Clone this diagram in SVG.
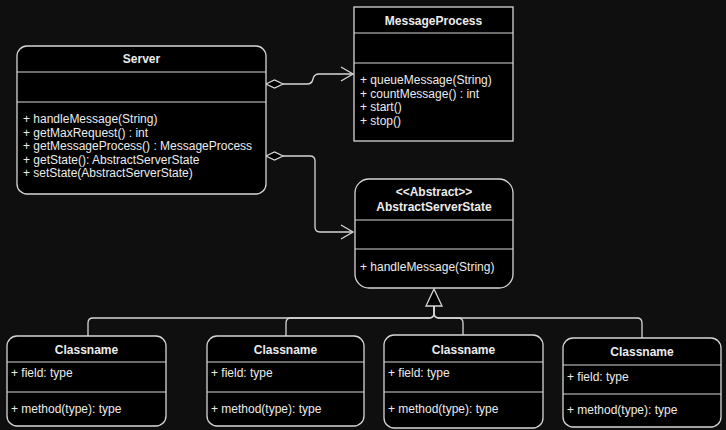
<svg xmlns="http://www.w3.org/2000/svg" width="726" height="430" viewBox="0 0 726 430">
<style>
.box{fill:#000;stroke:#d6d6d6;stroke-width:1.3}
.div{stroke:#d6d6d6;stroke-width:1.2}
.t{font-family:"Liberation Sans",Arial,sans-serif;font-size:12px;fill:#ececec}
.b{font-weight:bold;text-anchor:middle}
.c{fill:none;stroke:#d6d6d6;stroke-width:1.3}
</style>
<rect width="726" height="430" fill="#0f0f0f"/>
<g id="connectors">
<path class="c" d="M283,84 H307 Q312,84 313,79 Q314,74 319,74 H353"/>
<path class="c" d="M341,67 L353,74 L341,81"/>
<path class="c" d="M283,156 H310 Q315,156 315,161 V227 Q315,232 320,232 H353"/>
<path class="c" d="M341,225 L353,232 L341,239"/>
<polygon points="266,84 274.5,80 283,84 274.5,88" fill="#000" stroke="#d6d6d6" stroke-width="1.3"/>
<polygon points="266,156 274.5,152 283,156 274.5,160" fill="#000" stroke="#d6d6d6" stroke-width="1.3"/>
<path class="c" d="M434,306 V313 Q434,318 429,318 H93 Q88,318 88,323 V336"/>
<path class="c" d="M434,306 V313 Q434,318 429,318 H291 Q286,318 286,323 V336"/>
<path class="c" d="M434,306 V313 Q434,318 439,318 H458 Q463,318 463,323 V335"/>
<path class="c" d="M434,306 V313 Q434,318 439,318 H637 Q642,318 642,323 V338"/>
<polygon points="434,289 426,306 442,306" fill="#000" stroke="#d6d6d6" stroke-width="1.3"/>
</g>
<g id="server">
<rect class="box" x="17" y="46" width="249" height="148" rx="10"/>
<line class="div" x1="17" y1="72" x2="266" y2="72"/>
<line class="div" x1="17" y1="102" x2="266" y2="102"/>
<text class="t b" x="141.5" y="63">Server</text>
<text class="t" x="23" y="123">+ handleMessage(String)</text>
<text class="t" x="23" y="136.5">+ getMaxRequest() : int</text>
<text class="t" x="23" y="150">+ getMessageProcess() : MessageProcess</text>
<text class="t" x="23" y="163.5">+ getState(): AbstractServerState</text>
<text class="t" x="23" y="177">+ setState(AbstractServerState)</text>
</g>
<g id="messageprocess">
<rect class="box" x="354" y="7" width="159" height="134"/>
<line class="div" x1="354" y1="33" x2="513" y2="33"/>
<line class="div" x1="354" y1="63" x2="513" y2="63"/>
<text class="t b" x="433.5" y="25">MessageProcess</text>
<text class="t" x="360" y="84">+ queueMessage(String)</text>
<text class="t" x="360" y="97.5">+ countMessage() : int</text>
<text class="t" x="360" y="111">+ start()</text>
<text class="t" x="360" y="125">+ stop()</text>
</g>
<g id="abstractserverstate">
<rect class="box" x="355" y="179" width="158" height="109" rx="14"/>
<line class="div" x1="355" y1="220" x2="513" y2="220"/>
<line class="div" x1="355" y1="249" x2="513" y2="249"/>
<text class="t b" x="434" y="196">&lt;&lt;Abstract&gt;&gt;</text>
<text class="t b" x="434" y="211">AbstractServerState</text>
<text class="t" x="360" y="271">+ handleMessage(String)</text>
</g>
<g id="classname1">
<rect class="box" x="7" y="336" width="159" height="90" rx="10"/>
<line class="div" x1="7" y1="362" x2="166" y2="362"/>
<line class="div" x1="7" y1="392" x2="166" y2="392"/>
<text class="t b" x="86.5" y="354">Classname</text>
<text class="t" x="11" y="377">+ field: type</text>
<text class="t" x="11" y="413">+ method(type): type</text>
</g>
<g id="classname2">
<rect class="box" x="207" y="336" width="157" height="90" rx="10"/>
<line class="div" x1="207" y1="362" x2="364" y2="362"/>
<line class="div" x1="207" y1="392" x2="364" y2="392"/>
<text class="t b" x="285.5" y="354">Classname</text>
<text class="t" x="211" y="377">+ field: type</text>
<text class="t" x="211" y="413">+ method(type): type</text>
</g>
<g id="classname3">
<rect class="box" x="384" y="335" width="159" height="93" rx="10"/>
<line class="div" x1="384" y1="362" x2="543" y2="362"/>
<line class="div" x1="384" y1="392" x2="543" y2="392"/>
<text class="t b" x="463.5" y="354">Classname</text>
<text class="t" x="388" y="377">+ field: type</text>
<text class="t" x="388" y="413">+ method(type): type</text>
</g>
<g id="classname4">
<rect class="box" x="563" y="338" width="158" height="89" rx="10"/>
<line class="div" x1="563" y1="365" x2="721" y2="365"/>
<line class="div" x1="563" y1="394" x2="721" y2="394"/>
<text class="t b" x="642" y="356">Classname</text>
<text class="t" x="567" y="381">+ field: type</text>
<text class="t" x="567" y="414">+ method(type): type</text>
</g>
</svg>
